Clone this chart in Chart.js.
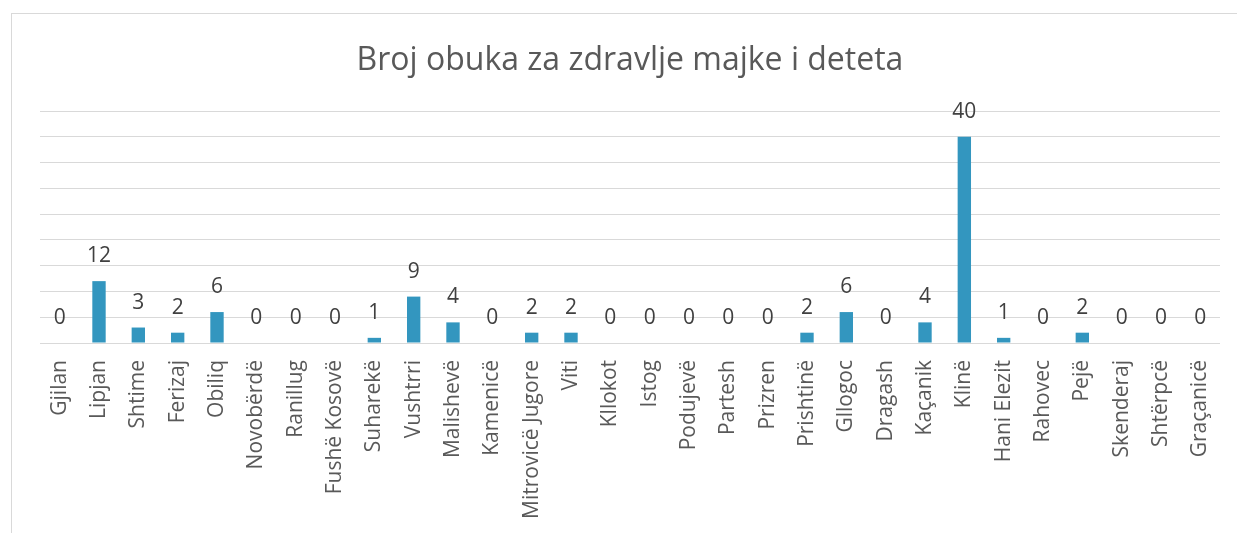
<!DOCTYPE html>
<html>
<head>
<meta charset="utf-8">
<script src="https://cdn.jsdelivr.net/npm/chart.js@4"></script>
<style>
  html, body { margin: 0; padding: 0; background: #fff; overflow: hidden; }
  #wrap { position: relative; width: 1237px; height: 533px; }
  #frame { position: absolute; left: 11px; top: 13px; width: 1400px; height: 700px; border: 1px solid #d9d9d9; box-sizing: border-box; }
  canvas { position: absolute; left: 0; top: 0; }
</style>
</head>
<body>
<div id="wrap">
  <div id="frame"></div>
  <canvas id="c" width="1237" height="533"></canvas>
</div>
<script>
const chartTitle = "Broj obuka za zdravlje majke i deteta";
const categories = ["Gjilan","Lipjan","Shtime","Ferizaj","Obiliq","Novobërdë","Ranillug","Fushë Kosovë","Suharekë","Vushtrri","Malishevë","Kamenicë","Mitrovicë Jugore","Viti","Kllokot","Istog","Podujevë","Partesh","Prizren","Prishtinë","Gllogoc","Dragash","Kaçanik","Klinë","Hani Elezit","Rahovec","Pejë","Skenderaj","Shtërpcë","Graçanicë"];
const values = [0,12,3,2,6,0,0,0,1,9,4,0,2,2,0,0,0,0,0,2,6,0,4,40,1,0,2,0,0,0];
const yMin = 0, yMax = 45, yStep = 5;

const valueLabels = {
  id: 'valueLabels',
  afterDatasetsDraw(chart) {
    const ctx = chart.ctx;
    const meta = chart.getDatasetMeta(0);
    ctx.save();
    ctx.font = '21px "Open Sans"';
    ctx.fillStyle = '#404040';
    ctx.textAlign = 'center';
    ctx.textBaseline = 'middle';
    meta.data.forEach((bar, i) => {
      ctx.fillText(String(values[i]), bar.x, bar.y - 25);
    });
    ctx.restore();
  }
};

new Chart(document.getElementById('c'), {
  type: 'bar',
  data: {
    labels: categories,
    datasets: [{
      data: values,
      backgroundColor: '#3396bf',
      borderWidth: 0,
      barPercentage: 0.34,
      categoryPercentage: 1.0
    }]
  },
  options: {
    responsive: false,
    animation: false,
    devicePixelRatio: 1,
    layout: { padding: { left: 40, right: 17, top: 0, bottom: 0 } },
    plugins: {
      legend: { display: false },
      tooltip: { enabled: false },
      title: {
        display: true,
        text: chartTitle,
        color: '#595959',
        font: { family: '"Open Sans"', size: 32, weight: 'normal', lineHeight: 1.2 },
        padding: { top: 42, bottom: 30.6 }
      }
    },
    scales: {
      x: {
        grid: { display: false },
        border: { display: false },
        ticks: {
          color: '#595959',
          font: { family: '"Open Sans"', size: 21 },
          minRotation: 90,
          maxRotation: 90,
          autoSkip: false,
          padding: 9
        },
        afterFit(scale) { scale.height = 190; }
      },
      y: {
        min: yMin,
        max: yMax,
        ticks: { display: false, stepSize: yStep },
        grid: { color: '#d9d9d9', lineWidth: 1, drawTicks: false },
        border: { display: false },
        afterFit(scale) { scale.width = 0; }
      }
    }
  },
  plugins: [valueLabels]
});
</script>
</body>
</html>
